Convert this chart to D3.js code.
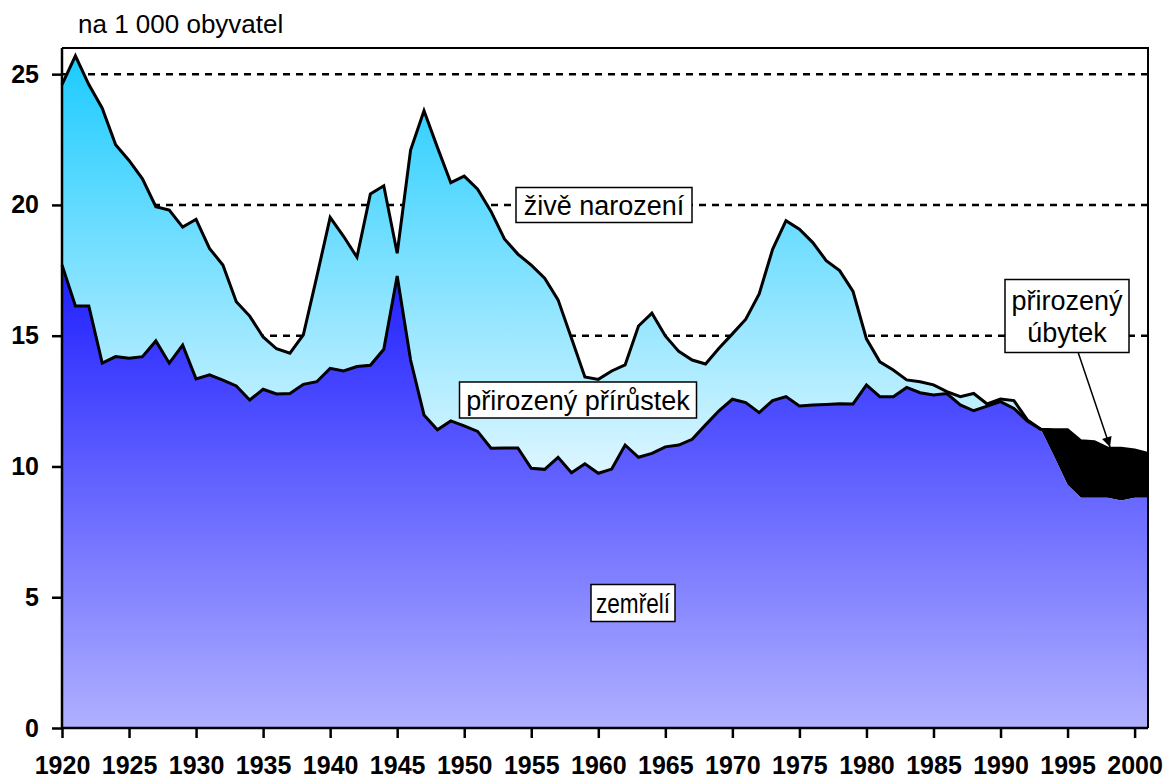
<!DOCTYPE html>
<html>
<head>
<meta charset="utf-8">
<script src="https://cdnjs.cloudflare.com/ajax/libs/d3/7.8.5/d3.min.js"></script>
<style>
  body { margin: 0; background: #fff; }
  svg { font-family: "Liberation Sans", Arial, sans-serif; }
  .axis text { font-size: 25px; font-weight: bold; fill: #000; }
  .axis path, .axis line { stroke: #000; stroke-width: 2.5; }
  .lbl { font-size: 27px; fill: #000; }
</style>
</head>
<body>
<div id="chart"></div>
<script>
let svgWidth = 1168;
let svgHeight = 780;

let margin = { top: 48, right: 20, bottom: 52, left: 62 };
let width = 1148 - margin.left;
let height = 728 - margin.top;

// data (per 1 000 inhabitants)
let years = d3.range(1920, 2002);
let births = [
  24.6, 25.7, 24.6, 23.7, 22.3, 21.7, 21.0, 19.93, 19.8, 19.15,
  19.45, 18.34, 17.7, 16.3, 15.75, 14.95, 14.5, 14.33, 15.03, 17.25,
  19.52, 18.8, 18.0, 20.42, 20.73, 18.15, 22.1, 23.6, 22.2, 20.85,
  21.1, 20.6, 19.75, 18.7, 18.12, 17.7, 17.2, 16.37, 14.9, 13.42,
  13.33, 13.65, 13.88, 15.37, 15.86, 14.99, 14.4, 14.07, 13.92, 14.52,
  15.07, 15.63, 16.6, 18.3, 19.4, 19.07, 18.56, 17.87, 17.49, 16.69,
  14.88, 14.0, 13.69, 13.31, 13.24, 13.12, 12.86, 12.67, 12.79, 12.39,
  12.58, 12.52, 11.78, 11.42, 10.38, 9.3, 8.8, 8.8, 8.8, 8.7,
  8.8, 8.8
];
let deaths = [
  17.7, 16.14, 16.14, 13.95, 14.2, 14.14, 14.2, 14.8, 13.95, 14.64,
  13.35, 13.5, 13.3, 13.08, 12.54, 12.95, 12.77, 12.79, 13.14, 13.24,
  13.75, 13.65, 13.82, 13.87, 14.48, 17.28, 14.07, 11.97, 11.4, 11.74,
  11.55, 11.34, 10.7, 10.71, 10.71, 9.93, 9.89, 10.35, 9.76, 10.1,
  9.74, 9.9, 10.82, 10.35, 10.5, 10.75, 10.82, 11.04, 11.59, 12.13,
  12.57, 12.44, 12.06, 12.52, 12.67, 12.31, 12.35, 12.37, 12.4, 12.39,
  13.12, 12.67, 12.67, 13.02, 12.82, 12.73, 12.79, 12.35, 12.13, 12.31,
  12.48, 12.22, 11.74, 11.42, 11.4, 11.4, 10.98, 10.95, 10.7, 10.7,
  10.63, 10.5
];
let yTicks = [0, 5, 10, 15, 20, 25];
let gridValues = [15, 20, 25];
let xTicks = d3.range(1920, 2001, 5);

let data = years.map((yr, i) => ({ year: yr, b: births[i], d: deaths[i] }));

let svg = d3.select("#chart")
  .append("svg")
  .attr("width", svgWidth)
  .attr("height", svgHeight);

let defs = svg.append("defs");

let xScale = d3.scaleLinear().domain([1920, 2001]).range([0, width]);
let yScale = d3.scaleLinear().domain([0, 26]).range([height, 0]);

// gradients
let gBirth = defs.append("linearGradient")
  .attr("id", "gBirth").attr("gradientUnits", "userSpaceOnUse")
  .attr("x1", 0).attr("x2", 0)
  .attr("y1", yScale(25.7)).attr("y2", yScale(9));
gBirth.append("stop").attr("offset", "0%").attr("stop-color", "#1ccbff");
gBirth.append("stop").attr("offset", "100%").attr("stop-color", "#e6f8ff");

let gDeath = defs.append("linearGradient")
  .attr("id", "gDeath").attr("gradientUnits", "userSpaceOnUse")
  .attr("x1", 0).attr("x2", 0)
  .attr("y1", yScale(17.7)).attr("y2", yScale(0));
gDeath.append("stop").attr("offset", "0%").attr("stop-color", "#1e1eff");
gDeath.append("stop").attr("offset", "100%").attr("stop-color", "#b0b0ff");

defs.append("marker")
  .attr("id", "arrow")
  .attr("viewBox", "0 0 10 10")
  .attr("refX", 10).attr("refY", 5)
  .attr("markerWidth", 16).attr("markerHeight", 10)
  .attr("markerUnits", "userSpaceOnUse")
  .attr("orient", "auto")
  .append("path")
  .attr("d", "M0,0 L10,5 L0,10 z")
  .attr("fill", "#000");

let chartGroup = svg.append("g")
  .attr("transform", `translate(${margin.left}, ${margin.top})`);

// dotted gridlines
chartGroup.selectAll(".grid")
  .data(gridValues)
  .enter()
  .append("line")
  .attr("x1", 0).attr("x2", width)
  .attr("y1", d => yScale(d)).attr("y2", d => yScale(d))
  .attr("stroke", "#000")
  .attr("stroke-width", 2.5)
  .attr("stroke-dasharray", "7,6");

// natural decrease (black) sits under everything
let areaDeathsBlack = d3.area()
  .x(d => xScale(d.year))
  .y0(yScale(0))
  .y1(d => yScale(d.d));

chartGroup.append("path")
  .datum(data)
  .attr("d", areaDeathsBlack)
  .attr("fill", "#000");

let areaBirths = d3.area()
  .x(d => xScale(d.year))
  .y0(yScale(0))
  .y1(d => yScale(d.b));

chartGroup.append("path")
  .datum(data)
  .attr("d", areaBirths)
  .attr("fill", "url(#gBirth)");

let areaLower = d3.area()
  .x(d => xScale(d.year))
  .y0(yScale(0))
  .y1(d => yScale(Math.min(d.b, d.d)));

chartGroup.append("path")
  .datum(data)
  .attr("d", areaLower)
  .attr("fill", "url(#gDeath)");

let lineBirths = d3.line().x(d => xScale(d.year)).y(d => yScale(d.b));
let lineDeaths = d3.line().x(d => xScale(d.year)).y(d => yScale(d.d));

chartGroup.append("path")
  .datum(data.filter(d => d.year <= 1993))
  .attr("d", lineBirths)
  .attr("fill", "none")
  .attr("stroke", "#000")
  .attr("stroke-width", 3);

chartGroup.append("path")
  .datum(data)
  .attr("d", lineDeaths)
  .attr("fill", "none")
  .attr("stroke", "#000")
  .attr("stroke-width", 3);

// plot frame (top and right)
chartGroup.append("path")
  .attr("d", `M0,0 H${width} V${height}`)
  .attr("fill", "none")
  .attr("stroke", "#000")
  .attr("stroke-width", 2);

// axes
let xAxis = d3.axisBottom(xScale)
  .tickValues(xTicks)
  .tickSize(10)
  .tickPadding(18)
  .tickFormat(d3.format("d"));
let yAxis = d3.axisLeft(yScale)
  .tickValues(yTicks)
  .tickSize(10)
  .tickPadding(13);

chartGroup.append("g")
  .attr("class", "axis")
  .attr("transform", `translate(0, ${height})`)
  .call(xAxis)
  .call(g => g.select(".domain").attr("d", `M0,0H${width}`));

chartGroup.append("g")
  .attr("class", "axis")
  .call(yAxis)
  .call(g => g.select(".domain").attr("d", `M0,${height}V0`));

// unit label
svg.append("text")
  .attr("class", "lbl")
  .attr("x", 78)
  .attr("y", 33)
  .style("font-size", "26px")
  .text("na 1 000 obyvatel");

// boxed labels
function boxLabel(lines, cx, cy, w, h, fitTo) {
  let g = svg.append("g");
  g.append("rect")
    .attr("x", cx - w / 2).attr("y", cy - h / 2)
    .attr("width", w).attr("height", h)
    .attr("fill", "#fff")
    .attr("stroke", "#000")
    .attr("stroke-width", 1.5);
  let lh = 32;
  lines.forEach((t, i) => {
    let txt = g.append("text")
      .attr("class", "lbl")
      .attr("x", cx)
      .attr("y", cy + (i - (lines.length - 1) / 2) * lh)
      .attr("dy", "0.36em")
      .attr("text-anchor", "middle")
      .text(t);
    if (fitTo) {
      txt.attr("textLength", fitTo).attr("lengthAdjust", "spacingAndGlyphs");
    }
  });
}

boxLabel(["živě narození"], 604, 205, 176, 35);
boxLabel(["přirozený přírůstek"], 578, 400, 237, 36);
boxLabel(["zemřelí"], 633, 603, 84, 37, 74);

// arrow for natural decrease
svg.append("line")
  .attr("x1", 1078).attr("y1", 352)
  .attr("x2", 1110).attr("y2", 447)
  .attr("stroke", "#000")
  .attr("stroke-width", 1.5)
  .attr("marker-end", "url(#arrow)");

boxLabel(["přirozený", "úbytek"], 1067, 316, 124, 73);
</script>
</body>
</html>
